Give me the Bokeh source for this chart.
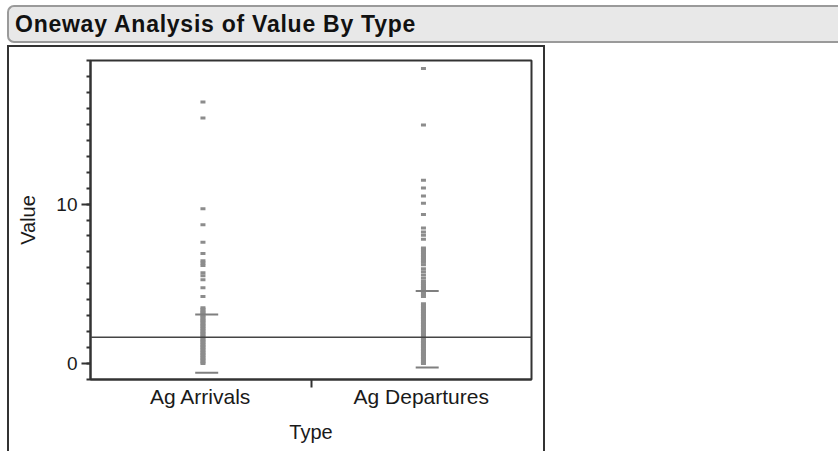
from bokeh.plotting import figure
from bokeh.models import Range1d, LinearAxis, FixedTicker, Span, ColumnDataSource, Div
from bokeh.layouts import column
from bokeh.transform import dodge
from bokeh.embed import file_html
from bokeh.resources import INLINE

# ---------------- data ----------------
title_text = "Oneway Analysis of Value By Type"
categories = ["Ag Arrivals", "Ag Departures"]
x_title = "Type"
y_title = "Value"

arrivals_values = [
    16.4, 15.4, 9.7, 8.7, 7.6, 6.9, 6.45, 6.3, 6.15, 5.7, 5.5, 5.25, 4.75, 4.2,
    3.5, 3.4, 3.3, 3.2, 3.1, 3.0, 2.9, 2.8, 2.7, 2.6, 2.5, 2.4, 2.3, 2.2, 2.1,
    2.0, 1.9, 1.8, 1.7, 1.6, 1.5, 1.4, 1.3, 1.2, 1.1, 1.0, 0.9, 0.8, 0.7, 0.6,
    0.5, 0.4, 0.3, 0.2, 0.1, 0.0,
]
departures_values = [
    18.5, 14.95, 11.5, 11.0, 10.5, 10.05, 9.35, 8.5, 8.25, 8.05, 7.8,
    7.25, 7.15, 7.05, 6.95, 6.85, 6.75, 6.65, 6.55, 6.45, 6.35,
    6.2, 5.95, 5.75, 5.55, 5.35, 5.15,
    5.0, 4.9, 4.8, 4.7, 4.6, 4.5, 4.4, 4.3, 4.2,
    3.75, 3.65, 3.55, 3.45, 3.35, 3.25, 3.15, 3.05, 2.95, 2.85, 2.75, 2.65,
    2.55, 2.45, 2.35, 2.25, 2.15, 2.05, 1.95, 1.85, 1.75, 1.65, 1.55, 1.45,
    1.35, 1.25, 1.15, 1.05, 0.95, 0.85, 0.75, 0.65, 0.55, 0.45, 0.35, 0.25,
    0.15, 0.05, 0.0,
]
# std-dev line positions (lower, upper) for each group
arrivals_sd_lines = [-0.57, 3.08]
departures_sd_lines = [-0.24, 4.55]
overall_mean = 1.65

y_major_ticks = [0, 10]
y_minor_ticks = [-1, 0, 1, 2, 3, 4, 5, 6, 7, 8, 9, 10, 11, 12, 13, 14, 15, 16, 17, 18, 19]

# category slots: each category occupies one unit, centred at index + 0.5
cat_pos = {c: i + 0.5 for i, c in enumerate(categories)}
cat_edges = [float(i) for i in range(1, len(categories))]

# ---------------- sources ----------------
pts = ColumnDataSource(dict(
    x=[cat_pos[categories[0]]] * len(arrivals_values) + [cat_pos[categories[1]]] * len(departures_values),
    value=arrivals_values + departures_values,
))
caps = ColumnDataSource(dict(
    x=[cat_pos[categories[0]]] * 2 + [cat_pos[categories[1]]] * 2,
    value=arrivals_sd_lines + departures_sd_lines,
))

FONT = "Liberation Sans"
TEXT = "#1a1a1a"

# ---------------- title bar ----------------
header = Div(
    text=('<div style="box-sizing:border-box;margin:5px 0 0 7px;width:831px;height:38px;'
          'background:#e8e8e8;border:2px solid #9a9a9a;border-right:none;'
          'border-radius:7px 0 0 7px;padding:0 0 0 6px;line-height:34px;'
          "font-family:'Liberation Sans',Arial,sans-serif;font-weight:bold;font-size:23px;"
          'letter-spacing:0.75px;color:#111;white-space:nowrap;">' + title_text + '</div>'),
    width=838, height=45)
header.margin = 0

# ---------------- figure ----------------
p = figure(width=538, height=406, output_backend="svg", toolbar_location=None,
           x_range=Range1d(0, len(categories)),
           y_range=Range1d(-1, 19), x_axis_location=None, y_axis_location=None,
           min_border_left=81, min_border_right=16, min_border_top=13, min_border_bottom=74)
p.margin = (0, 0, 0, 7)
p.styles = {"border-left": "2px solid #333333", "border-right": "2px solid #333333",
            "border-top": "2px solid #333333", "box-sizing": "border-box"}
p.background_fill_color = "white"
p.border_fill_color = "white"
p.xgrid.visible = False
p.ygrid.visible = False
p.outline_line_color = "#333333"
p.outline_line_width = 2

# y axis
yax = LinearAxis(ticker=FixedTicker(ticks=y_major_ticks, minor_ticks=y_minor_ticks),
                 axis_label=y_title)
yax.axis_line_color = "#333333"
yax.axis_line_width = 2
yax.major_tick_out = 9
yax.major_tick_in = 0
yax.minor_tick_out = 4
yax.minor_tick_in = 0
yax.major_tick_line_color = "#333333"
yax.minor_tick_line_color = "#333333"
yax.major_tick_line_width = 2
yax.minor_tick_line_width = 2
yax.major_label_text_font = FONT
yax.major_label_text_font_size = "19px"
yax.major_label_text_color = TEXT
yax.major_label_standoff = 4
yax.axis_label_text_font = FONT
yax.axis_label_text_font_size = "20px"
yax.axis_label_text_font_style = "normal"
yax.axis_label_text_color = TEXT
yax.axis_label_standoff = 14
p.add_layout(yax, "left")

# x axis: labels at category centres, tick only at the boundary
xax = LinearAxis(ticker=FixedTicker(ticks=list(cat_pos.values()), minor_ticks=cat_edges),
                 major_label_overrides={v: k for k, v in cat_pos.items()},
                 axis_label=x_title)
xax.axis_line_color = "#333333"
xax.axis_line_width = 2
xax.major_tick_out = 0
xax.major_tick_in = 0
xax.minor_tick_out = 8
xax.minor_tick_in = 0
xax.minor_tick_line_color = "#333333"
xax.minor_tick_line_width = 2
xax.major_label_text_font = FONT
xax.major_label_text_font_size = "21px"
xax.major_label_text_color = TEXT
xax.major_label_standoff = -3
xax.axis_label_text_font = FONT
xax.axis_label_text_font_size = "20px"
xax.axis_label_text_font_style = "normal"
xax.axis_label_text_color = TEXT
xax.axis_label_standoff = 10
p.add_layout(xax, "below")

# points
p.rect(x=dodge("x", 0.01), y="value", width=5, height=3,
       width_units="screen", height_units="screen", source=pts,
       fill_color="#8c8c8c", line_color=None)
# std dev lines
p.scatter(x=dodge("x", 0.027), y="value", marker="dash", size=23,
          line_color="#7f7f7f", line_width=2, source=caps)
# overall mean line
p.add_layout(Span(location=overall_mean, dimension="width", line_color="#444444", line_width=1.5))

layout = column(header, p, spacing=0)
layout.margin = 0
open("out.html", "w").write(file_html(layout, INLINE))
